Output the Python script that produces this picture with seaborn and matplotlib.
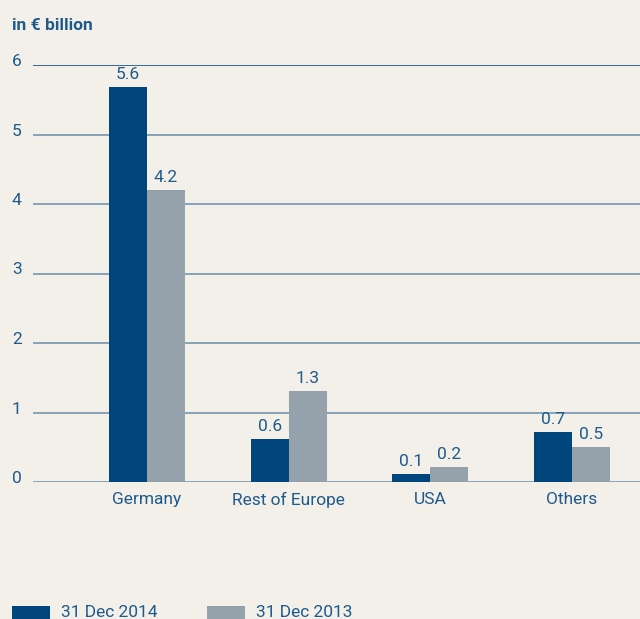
import matplotlib
matplotlib.use("Agg")
import matplotlib.pyplot as plt
import matplotlib.transforms as mtransforms
import seaborn as sns
import pandas as pd
from matplotlib.patches import Rectangle

categories = ["Germany", "Rest of Europe", "USA", "Others"]
series = ["31 Dec 2014", "31 Dec 2013"]
values_2014 = [5.68, 0.62, 0.12, 0.72]
values_2013 = [4.2, 1.31, 0.22, 0.5]
labels_2014 = ["5.6", "0.6", "0.1", "0.7"]
labels_2013 = ["4.2", "1.3", "0.2", "0.5"]
yticks = [0, 1, 2, 3, 4, 5, 6]

bg = "#f3f0e9"
dark = "#00457c"
gray = "#95a1ab"
txt = "#1f5a8c"
grid_light = "#7f9cb6"
grid_dark = "#2a5d8f"
FS = 12.5

sns.set_theme(style="white")
plt.rcParams["font.family"] = ["Roboto", "DejaVu Sans"]

df = pd.DataFrame({
    "cat": categories * 2,
    "series": [series[0]] * 4 + [series[1]] * 4,
    "val": values_2014 + values_2013,
})

W, H = 640, 619
fig = plt.figure(figsize=(6.4, 6.19), dpi=100, facecolor=bg)
ax = fig.add_axes([33 / W, (H - 482) / H, 1 - 33 / W, (482 - 65) / H])
ax.set_facecolor(bg)

for y in yticks:
    ax.axhline(y, color=grid_dark if y == 6 else grid_light, lw=1.3, zorder=0)

sns.barplot(data=df, x="cat", y="val", hue="series", order=categories,
            hue_order=series, palette=[dark, gray], width=0.536,
            saturation=1, ax=ax, legend=False, zorder=2, linewidth=0,
            edgecolor="none")

for container, labs in zip(ax.containers, [labels_2014, labels_2013]):
    ax.bar_label(container, labels=labs, padding=3.5, color=txt, fontsize=FS)

ax.set_ylim(0, 6)
ax.set_xlim(-0.805, 3.48)
ax.set_yticks(yticks)
ax.set_yticklabels([str(v) for v in yticks])
ax.tick_params(axis="y", length=0, pad=0, labelcolor=txt, labelsize=FS)
offset = mtransforms.ScaledTranslation(-21 / 100, -1 / 100, fig.dpi_scale_trans)
for lab in ax.get_yticklabels():
    lab.set_horizontalalignment("left")
    lab.set_verticalalignment("baseline")
    lab.set_transform(lab.get_transform() + offset)
ax.tick_params(axis="x", length=0, pad=7, labelcolor=txt, labelsize=FS)
ax.set_xlabel("")
ax.set_ylabel("")
for s in ax.spines.values():
    s.set_visible(False)

fig.text(12 / W, 1 - 26 / H, "in € billion", color=txt, fontsize=FS,
         fontweight="bold", va="center", ha="left")

# legend (partly cut by the bottom edge, as in the reference)
leg_x = [12, 207]
for (x0, name, col) in zip(leg_x, series, [dark, gray]):
    fig.patches.append(Rectangle((x0 / W, 0), 38 / W, 13 / H, transform=fig.transFigure,
                                 facecolor=col, edgecolor="none"))
    fig.text((x0 + 49) / W, 2 / H, name, color=txt, fontsize=FS,
             ha="left", va="baseline")

fig.savefig("out.png", dpi=100, facecolor=bg)
